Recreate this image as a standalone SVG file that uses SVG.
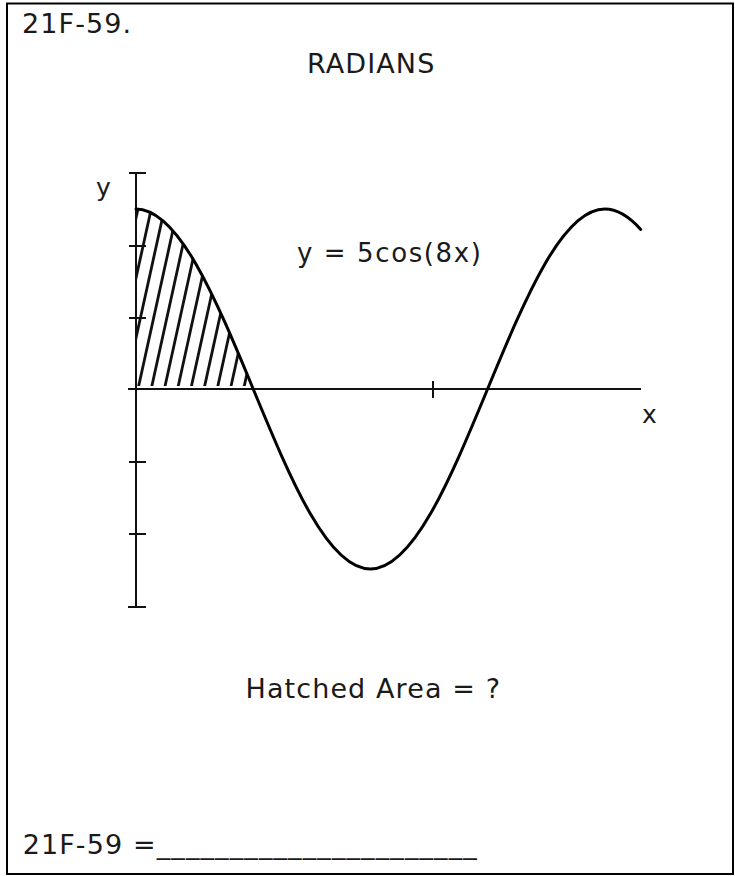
<svg xmlns="http://www.w3.org/2000/svg" width="735" height="876" viewBox="0 0 735 876">
  <style>
    .t { font-family: "DejaVu Sans", Verdana, "Liberation Sans", sans-serif; fill: #1a1a1a; }
    .big { font-size: 27px; letter-spacing: 1.1px; }
    .lbl { font-size: 25px; }
    .ax { stroke: #111; stroke-width: 2; fill: none; }
    .curve { stroke: #000; stroke-width: 3; fill: none; stroke-linecap: round; }
    .hatch { stroke: #111; stroke-width: 2.8; }
  </style>
  <defs>
    <clipPath id="hatchClip">
      <path d="M137,386 L137,209 C178.4,209 215.0,296.8 253.2,389 L253.2,386 Z"/>
    </clipPath>
  </defs>
  <rect id="frame" x="7" y="3.5" width="726" height="870.5" fill="#fff" stroke="#000" stroke-width="2"/>

  <g id="header">
    <text class="t big" x="22" y="33">21F-59.</text>
    <text class="t big" x="307" y="73">RADIANS</text>
  </g>

  <g id="hatch" clip-path="url(#hatchClip)">
    <line class="hatch" x1="85.2" y1="389" x2="127" y2="199"/>
    <line class="hatch" x1="98.4" y1="389" x2="140.2" y2="199"/>
    <line class="hatch" x1="111.6" y1="389" x2="153.4" y2="199"/>
    <line class="hatch" x1="124.8" y1="389" x2="166.6" y2="199"/>
    <line class="hatch" x1="138" y1="389" x2="179.8" y2="199"/>
    <line class="hatch" x1="151.2" y1="389" x2="193" y2="199"/>
    <line class="hatch" x1="164.4" y1="389" x2="206.2" y2="199"/>
    <line class="hatch" x1="177.6" y1="389" x2="219.4" y2="199"/>
    <line class="hatch" x1="190.8" y1="389" x2="232.6" y2="199"/>
    <line class="hatch" x1="204" y1="389" x2="245.8" y2="199"/>
    <line class="hatch" x1="217.2" y1="389" x2="259" y2="199"/>
    <line class="hatch" x1="230.4" y1="389" x2="272.2" y2="199"/>
    <line class="hatch" x1="243.6" y1="389" x2="285.4" y2="199"/>
  </g>

  <g id="axes">
    <line class="ax" x1="136" y1="173" x2="136" y2="607"/>
    <line class="ax" x1="128" y1="389" x2="641" y2="389"/>
    <line class="ax" x1="129" y1="173" x2="146" y2="173"/>
    <line class="ax" x1="129" y1="246" x2="146" y2="246"/>
    <line class="ax" x1="129" y1="318" x2="146" y2="318"/>
    <line class="ax" x1="129" y1="462" x2="146" y2="462"/>
    <line class="ax" x1="129" y1="534" x2="146" y2="534"/>
    <line class="ax" x1="128" y1="607" x2="146" y2="607"/>
    <line class="ax" x1="433" y1="381" x2="433" y2="398"/>
  </g>

  <g id="curve">
    <path class="curve" d="M136,209 C178.4,209 215.0,296.8 253.2,389 C291.4,481.2 328.0,569 370.4,569 C412.8,569 449.4,481.2 487.6,389 C525.8,296.8 562.4,209 604.8,209 C616.8,209 628.7,216.0 640.7,229.4"/>
  </g>

  <g id="labels">
    <text class="t lbl" x="96" y="196">y</text>
    <text class="t lbl" x="642" y="423">x</text>
    <text class="t" x="297" y="262" font-size="26" letter-spacing="1.6">y = 5cos(8x)</text>
    <text class="t big" x="245.5" y="698">Hatched Area = ?</text>
  </g>

  <g id="answer">
    <text class="t big" x="22.7" y="854">21F-59 =______________________</text>
  </g>
</svg>
